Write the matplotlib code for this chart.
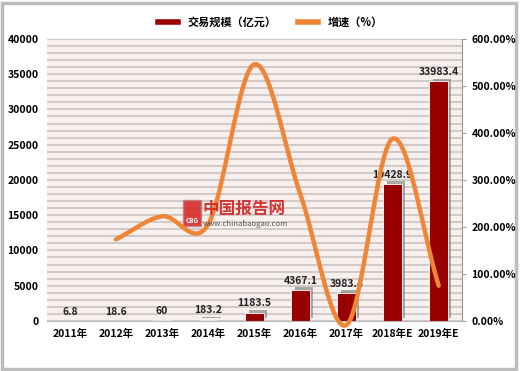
import matplotlib
matplotlib.use("Agg")
import matplotlib.pyplot as plt
import matplotlib.patheffects as pe
from matplotlib.lines import Line2D
from matplotlib.patches import Rectangle
import numpy as np

plt.rcParams['font.family'] = ['Noto Sans CJK SC', 'DejaVu Sans']

categories = ["2011年", "2012年", "2013年", "2014年", "2015年", "2016年", "2017年", "2018年E", "2019年E"]
scale = [6.8, 18.6, 60, 183.2, 1183.5, 4367.1, 3983.4, 19428.9, 33983.4]
scale_labels = ["6.8", "18.6", "60", "183.2", "1183.5", "4367.1", "3983.4", "19428.9", "33983.4"]
growth = [None, 173.5, 222.6, 205.3, 546.0, 269.0, -8.8, 387.7, 74.9]

left_ticks = [0, 5000, 10000, 15000, 20000, 25000, 30000, 35000, 40000]
right_ticks = [0, 100, 200, 300, 400, 500, 600]
right_tick_labels = ["0.00%", "100.00%", "200.00%", "300.00%", "400.00%", "500.00%", "600.00%"]

BAR = "#990000"
LINE = "#F08536"

fig = plt.figure(figsize=(5.2, 3.71), dpi=100)
fig.patch.set_facecolor("white")
fig.add_artist(Rectangle((0.004, 0.006), 0.988, 0.985, transform=fig.transFigure,
                         fill=False, edgecolor="#bdbdbd", linewidth=2.5))

ax = fig.add_axes([0.090, 0.135, 0.798, 0.760])
ax.set_facecolor("#F8EFEF")
x = np.arange(len(categories))

for g in range(0, 40001, 1000):
    ax.axhline(g, color="#CFC6C6", linewidth=1.3, zorder=0.5)

bars = ax.bar(x, scale, width=0.4, color=BAR, edgecolor="white", linewidth=0.6, zorder=2,
              path_effects=[pe.SimplePatchShadow(offset=(2.5, 2), shadow_rgbFace="#777777", alpha=0.6), pe.Normal()])
for xi, v, lab in zip(x, scale, scale_labels):
    ax.annotate(lab, (xi, v), xytext=(0, 3), textcoords="offset points", ha="center", va="bottom",
                fontsize=7.5, fontweight="bold", color="#222222", zorder=5)

ax.set_xlim(-0.5, len(categories) - 0.5)
ax.set_ylim(0, 40000)
ax.set_yticks(left_ticks)
ax.set_yticklabels([str(t) for t in left_ticks], fontsize=7.5, fontweight="bold")
ax.set_xticks(x)
ax.set_xticklabels(categories, fontsize=7.5, fontweight="bold")
ax.tick_params(axis="both", length=0, pad=6)
for s in ["top", "left"]:
    ax.spines[s].set_visible(False)
ax.spines["bottom"].set_color("#bbbbbb")
ax.spines["right"].set_visible(False)

ax2 = ax.twinx()
ax2.set_ylim(0, 600)
ax2.set_yticks(right_ticks)
ax2.set_yticklabels(right_tick_labels, fontsize=7.5, fontweight="bold")
ax2.tick_params(axis="y", length=3, color="#999999", pad=4)
for s in ["top", "left", "bottom"]:
    ax2.spines[s].set_visible(False)
ax2.spines["right"].set_color("#999999")

# smooth (Catmull-Rom) curve through the growth points
gx = np.array([i for i, g in enumerate(growth) if g is not None], dtype=float)
gy = np.array([g for g in growth if g is not None], dtype=float)
px = np.concatenate([[2 * gx[0] - gx[1]], gx, [2 * gx[-1] - gx[-2]]])
py = np.concatenate([[2 * gy[0] - gy[1]], gy, [2 * gy[-1] - gy[-2]]])
sx, sy = [], []
t = np.linspace(0, 1, 30)
for i in range(1, len(px) - 2):
    p0, p1, p2, p3 = [np.array([px[j], py[j]]) for j in (i - 1, i, i + 1, i + 2)]
    for tt in t:
        pt = 0.5 * ((2 * p1) + (-p0 + p2) * tt + (2 * p0 - 5 * p1 + 4 * p2 - p3) * tt ** 2
                    + (-p0 + 3 * p1 - 3 * p2 + p3) * tt ** 3)
        sx.append(pt[0]); sy.append(pt[1])
ax2.plot(sx, sy, color=LINE, linewidth=3.2, solid_capstyle="round", zorder=3, clip_on=False)
ax2.set_zorder(ax.get_zorder() + 1)

# watermark
fig.text(0.39, 0.423, "中国报告网", color="#D42020", fontsize=12, fontweight="bold", alpha=0.9)
fig.text(0.39, 0.39, "www.chinabaogao.com", color="#444444", fontsize=5.5, alpha=0.9)
fig.add_artist(Rectangle((0.352, 0.39), 0.035, 0.07, transform=fig.transFigure,
                         facecolor="#D42020", edgecolor="#c08080", alpha=0.85))
fig.text(0.369, 0.398, "CBG", color="white", fontsize=4.5, fontweight="bold", ha="center")

handles = [Line2D([0], [0], color=BAR, linewidth=4), Line2D([0], [0], color=LINE, linewidth=4)]
fig.legend(handles, ["交易规模（亿元）", "增速（%）"], loc="upper center", bbox_to_anchor=(0.52, 0.985),
           ncol=2, frameon=False, fontsize=8, handlelength=1.8, columnspacing=2,
           prop={"weight": "bold", "size": 8})

fig.savefig("out.png", dpi=100)
